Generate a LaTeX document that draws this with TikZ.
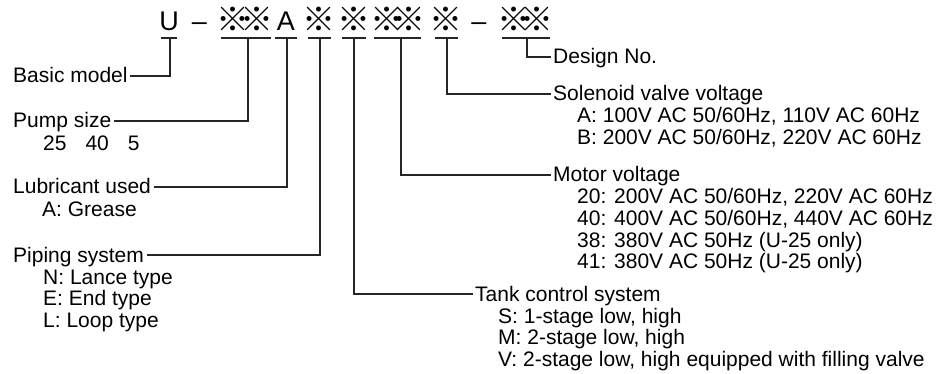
\documentclass[tikz,border=0pt]{standalone}
\usepackage{fontspec}
\setmainfont{Liberation Sans}
\newfontfamily\cjkfont{Noto Sans CJK JP}
\begin{document}
\begin{tikzpicture}[x=1pt,y=-1pt,
  lbl/.style={anchor=base west, inner sep=0pt, font=\fontsize{21}{22}\selectfont, text height=14pt, text depth=0pt},
  ttl/.style={lbl, inner xsep=2.5pt},
  hd/.style={anchor=base, inner sep=0pt, font=\fontsize{27}{28}\selectfont},
  hx/.style={anchor=base, inner sep=0pt, font=\cjkfont\fontsize{33}{34}\selectfont},
  ln/.style={line width=1.1pt, draw=black!85}]
\useasboundingbox (0,0) rectangle (950,374);

% header characters
\node[hd] (hU)  at (169,31) {U};
\node[hd] (hD1) at (199.5,31) {–};
\node[hx] (hP1) at (232.5,32) {※};
\node[hx] (hP2) at (257,32) {※};
\node[hd] (hA)  at (286,31) {A};
\node[hx] (hPi) at (319,32) {※};
\node[hx] (hT)  at (354,32) {※};
\node[hx] (hM1) at (386.5,32) {※};
\node[hx] (hM2) at (409,32) {※};
\node[hx] (hS)  at (446,32) {※};
\node[hd] (hD2) at (479,31) {–};
\node[hx] (hN1) at (513.5,32) {※};
\node[hx] (hN2) at (536.5,32) {※};

% underlines
\draw[ln] (161,38) -- (177,38);
\draw[ln] (221,38) -- (271,38);
\draw[ln] (275,38) -- (297,38);
\draw[ln] (308,38) -- (331,38);
\draw[ln] (342,38) -- (366,38);
\draw[ln] (374,38) -- (421,38);
\draw[ln] (435,38) -- (458,38);
\draw[ln] (502,38) -- (550,38);

% connector start points
\coordinate (tU)  at (170,38);
\coordinate (tP)  at (248,38);
\coordinate (tA)  at (287,38);
\coordinate (tPi) at (320,38);
\coordinate (tT)  at (354,38);
\coordinate (tM)  at (401,38);
\coordinate (tS)  at (447,38);
\coordinate (tN)  at (527,38);

% left column
\node[ttl] (basic) at (10.5,83) {Basic model};
\node[ttl] (pump)  at (10.5,128) {Pump size};
\node[lbl] (pumpv) at (43,151) {25\hspace{19pt}40\hspace{19pt}5};
\node[ttl] (lub)   at (10.5,194) {Lubricant used};
\node[lbl] (lubA)  at (42,217) {A: Grease};
\node[ttl] (pipe)  at (10.5,262) {Piping system};
\node[lbl] (pipeN) at (43,284) {N: Lance type};
\node[lbl] (pipeE) at (43,305.5) {E: End type};
\node[lbl] (pipeL) at (43,327) {L: Loop type};

% right column
\node[ttl] (des)  at (550.5,64) {Design No.};
\node[ttl] (sol)  at (550.5,101) {Solenoid valve voltage};
\node[lbl] (solA) at (577,123) {A: 100V AC 50/60Hz, 110V AC 60Hz};
\node[lbl] (solB) at (577,145) {B: 200V AC 50/60Hz, 220V AC 60Hz};
\node[ttl] (mot)  at (550.5,182) {Motor voltage};
\node[lbl] (mot1) at (577,204) {20: 200V AC 50/60Hz, 220V AC 60Hz};
\node[lbl] (mot2) at (577,225.5) {40: 400V AC 50/60Hz, 440V AC 60Hz};
\node[lbl] (mot3) at (577,247) {38: 380V AC 50Hz (U-25 only)};
\node[lbl] (mot4) at (577,268.5) {41: 380V AC 50Hz (U-25 only)};
\node[ttl] (tank) at (472.5,301) {Tank control system};
\node[lbl] (tankS) at (498,323) {S: 1-stage low, high};
\node[lbl] (tankM) at (498,344.5) {M: 2-stage low, high};
\node[lbl] (tankV) at (498,366) {V: 2-stage low, high equipped with filling valve};

% connectors
\draw[ln] (tU)  |- (basic.east);
\draw[ln] (tP)  |- (pump.east);
\draw[ln] (tA)  |- (lub.east);
\draw[ln] (tPi) |- (pipe.east);
\draw[ln] (tT)  |- (tank.west);
\draw[ln] (tM)  |- (mot.west);
\draw[ln] (tS)  |- (sol.west);
\draw[ln] (tN)  |- (des.west);
\end{tikzpicture}
\end{document}
